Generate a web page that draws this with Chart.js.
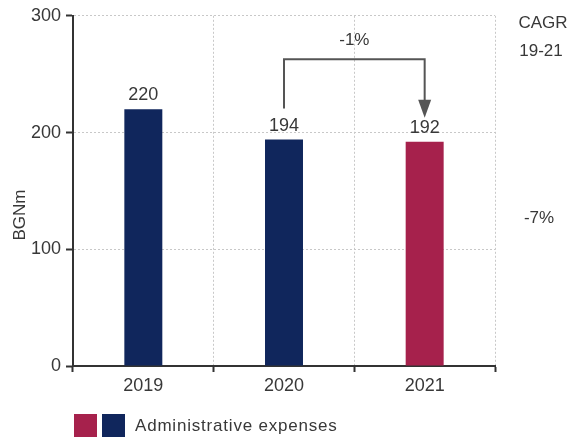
<!DOCTYPE html>
<html>
<head>
<meta charset="utf-8">
<script src="https://cdn.jsdelivr.net/npm/chart.js@4/dist/chart.umd.min.js"></script>
<style>
  body { margin: 0; background: #fff; }
</style>
</head>
<body>
<canvas id="chart" width="570" height="440"></canvas>
<script>
// ===================== data =====================
const years = ["2019", "2020", "2021"];
const adminExpenses = [220, 194, 192];
const barColors = ["#10265c", "#10265c", "#a6214c"];
const yTicks = [0, 100, 200, 300];
const changeLabel = "-1%";
const cagrTitle = ["CAGR", "19-21"];
const cagrValue = "-7%";
const legendLabel = "Administrative expenses";

const FONT = "'Liberation Sans', Arial, sans-serif";
const TEXT = "#383838";

// labels on top of each bar, arrow 2020 -> 2021, CAGR column, y title and legend
const extras = {
  id: "extras",
  afterDraw(chart) {
    const ctx = chart.ctx;
    const meta = chart.getDatasetMeta(0);
    ctx.save();
    ctx.fillStyle = TEXT;
    ctx.font = "18px " + FONT;
    ctx.textAlign = "center";
    ctx.textBaseline = "alphabetic";
    meta.data.forEach((bar, i) => {
      ctx.fillText(String(adminExpenses[i]), bar.x, bar.y - 9);
    });

    // bracket arrow
    const a = meta.data[1], b = meta.data[2];
    const topY = meta.data[0].y - 50;
    const startY = a.y - 31;
    const tipY = b.y - 24;
    ctx.strokeStyle = "#555555";
    ctx.fillStyle = "#555555";
    ctx.lineWidth = 2;
    ctx.beginPath();
    ctx.moveTo(a.x, startY);
    ctx.lineTo(a.x, topY);
    ctx.lineTo(b.x, topY);
    ctx.lineTo(b.x, tipY - 16);
    ctx.stroke();
    ctx.beginPath();
    ctx.moveTo(b.x - 6.5, tipY - 18);
    ctx.lineTo(b.x + 6.5, tipY - 18);
    ctx.lineTo(b.x, tipY);
    ctx.closePath();
    ctx.fill();

    ctx.fillStyle = TEXT;
    ctx.font = "17px " + FONT;
    ctx.fillText(changeLabel, (a.x + b.x) / 2, topY - 14);

    // CAGR column on the right
    ctx.fillText(cagrTitle[0], 543, 28);
    ctx.fillText(cagrTitle[1], 541, 56);
    ctx.fillText(cagrValue, 539, 223);

    // y axis title
    ctx.save();
    ctx.translate(25, 215);
    ctx.rotate(-Math.PI / 2);
    ctx.fillText("BGNm", 0, 0);
    ctx.restore();

    // legend
    ctx.fillStyle = barColors[2];
    ctx.fillRect(74, 414, 23, 23);
    ctx.fillStyle = barColors[0];
    ctx.fillRect(102, 414, 23, 23);
    ctx.fillStyle = TEXT;
    ctx.textAlign = "left";
    ctx.textBaseline = "middle";
    ctx.letterSpacing = "0.8px";
    ctx.fillText(legendLabel, 135, 426);
    ctx.restore();
  },
};

const gridStyle = {
  color: "#c8c8c8",
  lineWidth: 1,
  tickColor: "#333333",
  tickBorderDash: [],
  tickWidth: 2,
};

new Chart(document.getElementById("chart"), {
  type: "bar",
  data: {
    labels: years,
    datasets: [
      {
        label: legendLabel,
        data: adminExpenses,
        backgroundColor: barColors,
        barPercentage: 0.27,
        categoryPercentage: 1,
      },
    ],
  },
  options: {
    responsive: false,
    animation: false,
    layout: { padding: { left: 0, top: 14, right: 75, bottom: 44 } },
    plugins: {
      legend: { display: false },
      tooltip: { enabled: false },
    },
    scales: {
      x: {
        offset: true,
        afterFit: (s) => { s.height = 30; },
        border: { color: "#333333", width: 2, dash: [2, 2] },
        grid: { ...gridStyle, offset: true, tickLength: 6 },
        ticks: { color: TEXT, font: { family: FONT, size: 18 }, padding: 3 },
      },
      y: {
        min: 0,
        max: 300,
        afterFit: (s) => { s.width = 73; },
        afterBuildTicks: (s) => { s.ticks = yTicks.map((v) => ({ value: v })); },
        border: { color: "#333333", width: 2, dash: [2, 2] },
        grid: { ...gridStyle, tickLength: 7 },
        ticks: { color: TEXT, font: { family: FONT, size: 18 }, padding: 5 },
      },
    },
  },
  plugins: [extras],
});
</script>
</body>
</html>
